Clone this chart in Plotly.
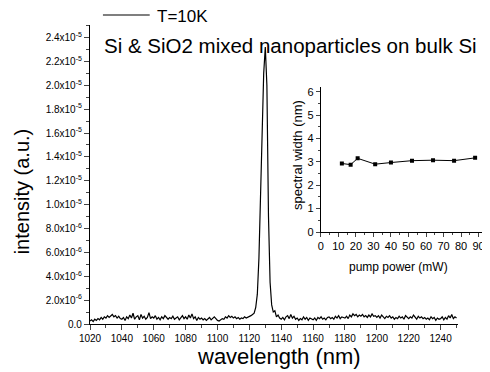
import plotly.graph_objects as go

# Main spectrum: wavelength grid (nm) and intensity in units of 1e-6 (a.u.)
wavelength = list(range(1020, 1251))
intensity_e6 = [
    0.25, 0.35, 0.2, 0.4, 0.3, 0.45, 0.35, 0.55, 0.4, 0.6,
    0.5, 0.7, 0.55, 0.65, 0.8, 0.6, 0.7, 0.5, 0.65, 0.45,
    0.4, 0.55, 0.3, 0.6, 0.45, 0.75, 0.5, 0.9, 0.4, 0.6,
    0.7, 0.35, 0.8, 0.5, 0.65, 0.4, 0.55, 0.95, 0.45, 0.6,
    0.5, 0.7, 0.4, 0.55, 0.35, 0.6, 0.45, 0.7, 0.5, 0.4,
    0.55, 0.45, 0.65, 0.4, 0.5, 0.6, 0.35, 0.55, 0.7, 0.45,
    0.6, 0.4, 0.75, 0.5, 0.85, 0.45, 0.6, 0.3, 0.55, 0.4,
    0.5, 0.35, 0.45, 0.3, 0.4, 0.55, 0.35, 0.5, 0.6, 0.45,
    0.3, 0.25, 0.35, 0.45, 0.4, 0.6, 0.5, 0.7, 0.55, 0.65,
    0.5, 0.6, 0.45, 0.55, 0.4, 0.5, 0.45, 0.6, 0.5, 0.55,
    0.6, 0.7, 0.8, 0.9, 1.4, 2.5, 5.5, 10.0, 16.0, 21.0,
    23.2, 20.0, 9.0, 3.5, 1.6, 1.0, 1.1, 0.6, 0.75, 0.5,
    0.4, 0.55, 0.35, 0.6, 0.7, 0.45, 0.8, 0.5, 0.65, 0.4,
    0.5, 0.3, 0.45, 0.35, 0.6, 0.4, 0.55, 0.3, 0.5, 0.45,
    0.35, 0.5, 0.3, 0.55, 0.45, 0.6, 0.4, 0.5, 0.35, 0.55,
    0.6, 0.45, 0.55, 0.4, 0.65, 0.5, 0.7, 0.45, 0.6, 0.55,
    0.5, 0.65, 0.45, 0.75, 0.6, 0.85, 0.7, 0.8, 0.6, 0.75,
    0.65, 0.8, 0.6, 0.7, 0.55, 0.75, 0.6, 0.85, 0.65, 0.7,
    0.55, 0.7, 0.5, 0.75, 0.6, 0.45, 0.65, 0.55, 0.7, 0.5,
    0.6, 0.4, 0.55, 0.45, 0.65, 0.5, 0.6, 0.4, 0.7, 0.55,
    0.45, 0.6, 0.5, 0.75, 0.55, 0.4, 0.65, 0.5, 0.6, 0.45,
    0.55, 0.4, 0.5, 0.35, 0.6, 0.45, 0.55, 0.3, 0.5, 0.4,
    0.45, 0.6, 0.35, 0.55, 0.4, 0.7, 0.5, 0.8, 0.45, 0.6,
    0.5,
]

y_tickvals = [0, 2, 4, 6, 8, 10, 12, 14, 16, 18, 20, 22, 24]
y_ticktext = ["0.0", "2.0x10<sup>-6</sup>", "4.0x10<sup>-6</sup>", "6.0x10<sup>-6</sup>",
              "8.0x10<sup>-6</sup>", "1.0x10<sup>-5</sup>", "1.2x10<sup>-5</sup>",
              "1.4x10<sup>-5</sup>", "1.6x10<sup>-5</sup>", "1.8x10<sup>-5</sup>",
              "2.0x10<sup>-5</sup>", "2.2x10<sup>-5</sup>", "2.4x10<sup>-5</sup>"]
x_tickvals = [1020, 1040, 1060, 1080, 1100, 1120, 1140, 1160, 1180, 1200, 1220, 1240]

# Inset: spectral width vs pump power
pump_power = [12, 17, 21, 31, 40, 52, 64, 76, 88]
spectral_width = [2.93, 2.88, 3.15, 2.9, 2.97, 3.05, 3.07, 3.05, 3.17]

FONT = "Liberation Sans, Arial, sans-serif"

# page body has an 8px default margin; layout below is given in window pixels
OFF = 8
W, H = 490 - OFF, 372 - OFF
plot_left, plot_top, plot_bottom = 90, 25, 324   # window pixels
main_right, inset_right = 460, 485
ml = plot_left - OFF
mt = plot_top - OFF
mb = H - (plot_bottom - OFF)
mr = W - (inset_right - OFF)
pw = W - ml - mr
ph = H - mt - mb


def px_x(x):
    return (x - OFF - ml) / pw


def px_y(y):
    return (mt + ph - (y - OFF)) / ph


fig = go.Figure()
fig.add_trace(go.Scatter(
    x=wavelength, y=intensity_e6, mode="lines", name="T=10K", showlegend=False,
    line=dict(color="black", width=1.2), xaxis="x", yaxis="y",
))
fig.add_trace(go.Scatter(
    x=pump_power, y=spectral_width, mode="lines+markers", showlegend=False,
    line=dict(color="black", width=1), marker=dict(symbol="square", size=4, color="black"),
    xaxis="x2", yaxis="y2",
))

fig.update_layout(
    width=W, height=H,
    margin=dict(l=ml, r=mr, t=mt, b=mb),
    paper_bgcolor="white", plot_bgcolor="white",
    font=dict(family=FONT, color="black"),
    showlegend=False,
    xaxis=dict(domain=[0, px_x(main_right)], range=[1020, 1251],
               tickvals=x_tickvals, ticks="outside", ticklen=5, tickwidth=1,
               minor=dict(dtick=10, tick0=1020, ticks="outside", ticklen=3, tickwidth=1),
               showline=True, linecolor="black", linewidth=1.2, showgrid=False, zeroline=False,
               tickfont=dict(size=10, family=FONT), anchor="y"),
    yaxis=dict(domain=[0, 1], range=[0, 25.05],
               tickvals=y_tickvals, ticktext=y_ticktext, ticks="outside", ticklen=5, tickwidth=1,
               minor=dict(dtick=1, tick0=0, ticks="outside", ticklen=3, tickwidth=1),
               showline=True, linecolor="black", linewidth=1.2, showgrid=False, zeroline=False,
               tickfont=dict(size=10, family=FONT), anchor="x"),
    xaxis2=dict(domain=[px_x(322), 1.0], range=[0, 92.5],
                tickvals=[0, 10, 20, 30, 40, 50, 60, 70, 80, 90], ticks="outside", ticklen=4,
                minor=dict(dtick=5, tick0=0, ticks="outside", ticklen=2),
                showline=True, linecolor="black", linewidth=1, showgrid=False, zeroline=False,
                tickfont=dict(size=11, family=FONT), anchor="y2"),
    yaxis2=dict(domain=[px_y(232), px_y(87)], range=[0, 6.2],
                tickvals=[0, 1, 2, 3, 4, 5, 6], ticks="outside", ticklen=4,
                minor=dict(dtick=0.5, tick0=0, ticks="outside", ticklen=2),
                showline=True, linecolor="black", linewidth=1, showgrid=False, zeroline=False,
                tickfont=dict(size=11, family=FONT), anchor="x2"),
)

# legend sample: line + label
fig.add_shape(type="line", xref="paper", yref="paper",
              x0=px_x(103), x1=px_x(150), y0=px_y(15), y1=px_y(15),
              line=dict(color="black", width=1.2))
fig.add_annotation(x=px_x(156), y=px_y(16), xref="paper", yref="paper",
                   text="T=10K", showarrow=False, xanchor="left", yanchor="middle",
                   font=dict(size=17, family=FONT), borderpad=0)

fig.add_annotation(x=px_x(103), y=px_y(46), xref="paper", yref="paper",
                   text="Si & SiO2 mixed nanoparticles on bulk Si", showarrow=False,
                   xanchor="left", yanchor="middle", font=dict(size=20.5, family=FONT),
                   borderpad=0)
fig.add_annotation(x=px_x(22), y=px_y(191), xref="paper", yref="paper",
                   text="intensity (a.u.)", showarrow=False, textangle=-90,
                   xanchor="center", yanchor="middle", font=dict(size=20, family=FONT))
fig.add_annotation(x=px_x(280), y=px_y(356), xref="paper", yref="paper",
                   text="wavelength (nm)", showarrow=False,
                   xanchor="center", yanchor="middle", font=dict(size=22, family=FONT))
fig.add_annotation(x=px_x(298), y=px_y(155), xref="paper", yref="paper",
                   text="spectral width (nm)", showarrow=False, textangle=-90,
                   xanchor="center", yanchor="middle", font=dict(size=13, family=FONT))
fig.add_annotation(x=px_x(400), y=px_y(267), xref="paper", yref="paper",
                   text="pump power (mW)", showarrow=False,
                   xanchor="center", yanchor="middle", font=dict(size=12, family=FONT))

fig.write_html("out.html")
